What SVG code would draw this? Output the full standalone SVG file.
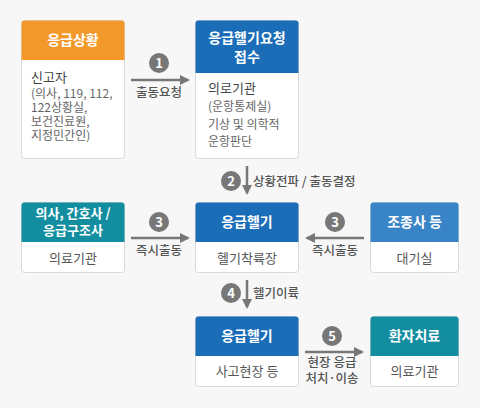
<svg xmlns="http://www.w3.org/2000/svg" width="480" height="408" viewBox="0 0 480 408">
<defs>
<style>
text{font-family:"Noto Sans CJK KR","Noto Sans",sans-serif}
.box{fill:#fff;stroke:#d9d9d9;stroke-width:1}
.hd{fill:#fff;font-size:14px;font-weight:bold;text-anchor:middle}
.hd2{fill:#fff;font-size:13px;font-weight:bold;text-anchor:middle}
.sub{fill:#555;font-size:13px;text-anchor:middle}
.t1{fill:#444;font-size:13px}
.t2{fill:#666;font-size:12px}
.ln{stroke:#777;stroke-width:2.5;fill:none}
.num{fill:#777}
.nt{fill:#fff;font-size:13px;font-weight:bold;text-anchor:middle}
.lb{fill:#555;font-size:12.5px;font-weight:500}
</style>
<marker id="ah" viewBox="0 0 10 10" refX="8" refY="5" markerWidth="4" markerHeight="4" orient="auto"><path d="M0,0 L10,5 L0,10 z" fill="#777"/></marker>
</defs>
<rect width="480" height="408" fill="#f7f7f7"/>
<g id="n1">
<rect class="box" x="21.5" y="20.5" width="103" height="138" rx="3"/>
<path d="M21.5,60 V23.5 a3,3 0 0 1 3,-3 H121.5 a3,3 0 0 1 3,3 V60 z" fill="#f3992c"/>
<text class="hd" x="73" y="45">응급상황</text>
<text class="t1" x="31" y="82">신고자</text>
<text class="t2" x="31" y="98">(의사, 119, 112,</text>
<text class="t2" x="31" y="112">122상황실,</text>
<text class="t2" x="31" y="126">보건진료원,</text>
<text class="t2" x="31" y="140">지정민간인)</text>
</g>
<g id="n2">
<rect class="box" x="195.5" y="20.5" width="103" height="138" rx="3"/>
<path d="M195.5,73 V23.5 a3,3 0 0 1 3,-3 H295.5 a3,3 0 0 1 3,3 V73 z" fill="#1b6db7"/>
<text class="hd" x="247" y="43">응급헬기요청</text>
<text class="hd" x="247" y="62">접수</text>
<text class="t1" x="208" y="93">의로기관</text>
<text class="t2" x="208" y="111">(운항통제실)</text>
<text class="t2" x="208" y="129">기상 및 의학적</text>
<text class="t2" x="208" y="146">운항판단</text>
</g>
<g id="n3">
<rect class="box" x="21.5" y="202.5" width="103" height="70" rx="3"/>
<path d="M21.5,242 V205.5 a3,3 0 0 1 3,-3 H121.5 a3,3 0 0 1 3,3 V242 z" fill="#138ea0"/>
<text class="hd2" x="73" y="218">의사, 간호사 /</text>
<text class="hd2" x="73" y="235">응급구조사</text>
<text class="sub" x="73" y="263">의료기관</text>
</g>
<g id="n4">
<rect class="box" x="195.5" y="202.5" width="103" height="70" rx="3"/>
<path d="M195.5,242 V205.5 a3,3 0 0 1 3,-3 H295.5 a3,3 0 0 1 3,3 V242 z" fill="#1b6db7"/>
<text class="hd" x="247" y="227">응급헬기</text>
<text class="sub" x="247" y="263">헬기착륙장</text>
</g>
<g id="n5">
<rect class="box" x="370.5" y="202.5" width="88" height="70" rx="3"/>
<path d="M370.5,242 V205.5 a3,3 0 0 1 3,-3 H455.5 a3,3 0 0 1 3,3 V242 z" fill="#3884c6"/>
<text class="hd" x="414.5" y="227">조종사 등</text>
<text class="sub" x="414.5" y="263">대기실</text>
</g>
<g id="n6">
<rect class="box" x="195.5" y="316.5" width="103" height="70" rx="3"/>
<path d="M195.5,356 V319.5 a3,3 0 0 1 3,-3 H295.5 a3,3 0 0 1 3,3 V356 z" fill="#1b6db7"/>
<text class="hd" x="247" y="341">응급헬기</text>
<text class="sub" x="247" y="376">사고현장 등</text>
</g>
<g id="n7">
<rect class="box" x="370.5" y="316.5" width="88" height="70" rx="3"/>
<path d="M370.5,356 V319.5 a3,3 0 0 1 3,-3 H455.5 a3,3 0 0 1 3,3 V356 z" fill="#138ea0"/>
<text class="hd" x="414.5" y="341">환자치료</text>
<text class="sub" x="414.5" y="376">의료기관</text>
</g>
<g id="connectors">
<line class="ln" x1="131" y1="80" x2="188" y2="80" marker-end="url(#ah)"/>
<circle class="num" cx="159" cy="63" r="10"/><text class="nt" x="159" y="67.5">1</text>
<text class="lb" x="159" y="97" text-anchor="middle">출동요청</text>

<line class="ln" x1="247" y1="166" x2="247" y2="193" marker-end="url(#ah)"/>
<circle class="num" cx="231" cy="181" r="10"/><text class="nt" x="231" y="185.5">2</text>
<text class="lb" x="253" y="185.5">상황전파 / 출동결정</text>

<line class="ln" x1="131" y1="238" x2="188" y2="238" marker-end="url(#ah)"/>
<circle class="num" cx="159" cy="222" r="10"/><text class="nt" x="159" y="226.5">3</text>
<text class="lb" x="159" y="255" text-anchor="middle">즉시출동</text>

<line class="ln" x1="364" y1="238" x2="307" y2="238" marker-end="url(#ah)"/>
<circle class="num" cx="335" cy="222" r="10"/><text class="nt" x="335" y="226.5">3</text>
<text class="lb" x="335" y="255" text-anchor="middle">즉시출동</text>

<line class="ln" x1="247" y1="280" x2="247" y2="307" marker-end="url(#ah)"/>
<circle class="num" cx="231" cy="293" r="10"/><text class="nt" x="231" y="297.5">4</text>
<text class="lb" x="253" y="297.5">헬기이륙</text>

<line class="ln" x1="305" y1="352" x2="362" y2="352" marker-end="url(#ah)"/>
<circle class="num" cx="332" cy="336" r="10"/><text class="nt" x="332" y="340.5">5</text>
<text class="lb" x="332" y="367" text-anchor="middle">현장 응급</text>
<text class="lb" x="332" y="383" text-anchor="middle">처치·이송</text>
</g>
</svg>
